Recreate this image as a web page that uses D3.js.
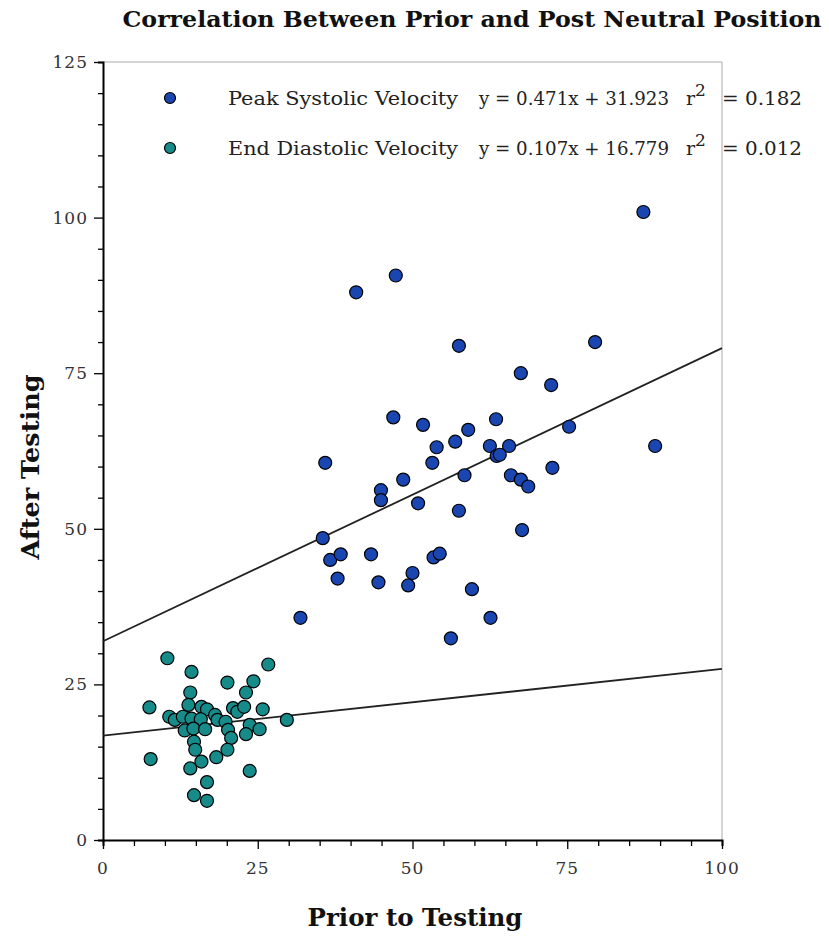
<!DOCTYPE html>
<html>
<head>
<meta charset="utf-8">
<script src="https://cdn.jsdelivr.net/npm/d3@7"></script>
<style>
  body { margin: 0; background: #fff; }
  svg text { font-family: "DejaVu Serif", "Liberation Serif", serif; }
</style>
</head>
<body>
<div id="chart"></div>
<script>
// Peak systolic velocity points [prior, after]
const systolic = [
    [87.3, 100.9], [47.3, 90.7], [40.9, 88.0], [57.5, 79.4], [79.5, 80.0],
    [67.5, 75.0], [72.4, 73.1], [75.3, 66.4], [35.9, 60.6], [46.9, 67.9],
    [51.7, 66.7], [63.5, 67.6], [59.0, 65.9], [53.9, 63.1], [56.9, 64.0],
    [53.2, 60.6], [62.5, 63.3], [65.6, 63.3], [63.6, 61.7], [64.1, 61.9],
    [48.5, 57.9], [58.4, 58.6], [65.9, 58.6], [67.5, 57.9], [68.7, 56.8],
    [72.6, 59.8], [50.9, 54.1], [57.5, 52.9], [44.9, 56.2], [44.9, 54.6],
    [67.7, 49.8], [35.5, 48.5], [36.7, 45.0], [38.4, 45.9], [43.3, 45.9],
    [53.4, 45.4], [54.4, 46.0], [37.9, 42.0], [44.5, 41.4], [50.0, 42.9],
    [49.3, 40.9], [59.6, 40.3], [31.9, 35.7], [62.6, 35.7], [56.2, 32.4],
    [89.2, 63.3]
];

// End diastolic velocity points [prior, after]
const diastolic = [
    [10.4, 29.2], [14.3, 27.0], [26.7, 28.2], [20.1, 25.3], [24.3, 25.5],
    [14.1, 23.7], [23.1, 23.7], [7.5, 21.3], [13.8, 21.7], [15.9, 21.4],
    [16.8, 21.0], [21.0, 21.2], [21.7, 20.6], [22.8, 21.4], [25.8, 21.0],
    [10.7, 19.8], [11.6, 19.3], [12.9, 19.8], [14.3, 19.5], [15.8, 19.4],
    [18.1, 20.1], [18.5, 19.3], [19.8, 19.0], [13.2, 17.6], [14.6, 17.9],
    [16.5, 17.8], [20.2, 17.7], [23.7, 18.5], [25.3, 17.8], [29.7, 19.3],
    [20.7, 16.4], [23.1, 17.0], [14.7, 15.8], [14.9, 14.5], [20.1, 14.5],
    [18.3, 13.3], [7.7, 13.0], [15.9, 12.6], [14.1, 11.5], [23.7, 11.1],
    [16.8, 9.3], [14.7, 7.2], [16.8, 6.3]
];

// regression fits as printed in the legend
const seriesNames = ["Peak Systolic Velocity", "End Diastolic Velocity"];
const slopes = [0.471, 0.107];
const intercepts = [31.923, 16.779];
const rSquared = ["0.182", "0.012"];
const colors = ["#1a46b2", "#178a8a"];

const xTicks = [0, 25, 50, 75, 100];
const yTicks = [0, 25, 50, 75, 100, 125];

const width = 829, height = 937;
const plotLeft = 103, plotRight = 722, plotTop = 62, plotBottom = 840;

const svg = d3.select("#chart").append("svg")
    .attr("width", width)
    .attr("height", height);

const x = d3.scaleLinear().domain([0, 100]).range([plotLeft, plotRight]);
const y = d3.scaleLinear().domain([0, 125]).range([plotBottom, plotTop]);

// thin frame on top and right
svg.append("path")
    .attr("d", `M${plotLeft},${plotTop}H${plotRight}V${plotBottom}`)
    .attr("fill", "none")
    .attr("stroke", "#aaa")
    .attr("stroke-width", 1);

// x axis: minor ticks every 5, labels every 25
const xAxis = svg.append("g")
    .attr("transform", `translate(0,${plotBottom})`)
    .call(d3.axisBottom(x).tickValues(d3.range(0, 101, 5)).tickSize(6).tickFormat(""));
xAxis.selectAll(".tick line").attr("stroke", "#000").attr("stroke-width", 1.3);
xAxis.select(".domain").attr("stroke", "#000").attr("stroke-width", 2);
xAxis.selectAll(".tick")
    .filter(d => xTicks.includes(d))
    .select("line").attr("y2", 9);

svg.append("g").selectAll("text")
    .data(xTicks)
    .enter().append("text")
    .attr("x", d => x(d))
    .attr("y", plotBottom + 34)
    .attr("text-anchor", "middle")
    .attr("font-size", "17px")
    .attr("letter-spacing", "1px")
    .attr("fill", "#333")
    .text(d => d);

// y axis
const yAxis = svg.append("g")
    .attr("transform", `translate(${plotLeft},0)`)
    .call(d3.axisLeft(y).tickValues(d3.range(0, 126, 5)).tickSize(5).tickFormat(""));
yAxis.selectAll(".tick line").attr("stroke", "#000").attr("stroke-width", 1.3);
yAxis.select(".domain").attr("stroke", "#000").attr("stroke-width", 2);
yAxis.selectAll(".tick")
    .filter(d => yTicks.includes(d))
    .select("line").attr("x2", -9);

svg.append("g").selectAll("text")
    .data(yTicks)
    .enter().append("text")
    .attr("x", plotLeft - 15)
    .attr("y", d => y(d) + 6)
    .attr("text-anchor", "end")
    .attr("font-size", "17px")
    .attr("letter-spacing", "1px")
    .attr("fill", "#333")
    .text(d => d);

// regression lines
svg.append("g").selectAll("line")
    .data(slopes)
    .enter().append("line")
    .attr("x1", x(0))
    .attr("y1", (d, i) => y(intercepts[i]))
    .attr("x2", x(100))
    .attr("y2", (d, i) => y(d * 100 + intercepts[i]))
    .attr("stroke", "#222")
    .attr("stroke-width", 1.8);

// points
[systolic, diastolic].forEach((pts, i) => {
    svg.append("g").selectAll("circle")
        .data(pts)
        .enter().append("circle")
        .attr("cx", d => x(d[0]))
        .attr("cy", d => y(d[1]))
        .attr("r", 6.5)
        .attr("fill", colors[i])
        .attr("stroke", "#000")
        .attr("stroke-width", 1.2);
});

// legend
const legend = svg.append("g")
    .attr("font-size", "19px")
    .attr("fill", "#222");
seriesNames.forEach((name, i) => {
    const ly = 98 + i * 50;
    legend.append("circle")
        .attr("cx", 170).attr("cy", ly).attr("r", 5.5)
        .attr("fill", colors[i]).attr("stroke", "#000").attr("stroke-width", 1.2);
    legend.append("text")
        .attr("x", 228).attr("y", ly + 7)
        .attr("textLength", 230).attr("lengthAdjust", "spacingAndGlyphs")
        .text(name);
    legend.append("text")
        .attr("x", 479).attr("y", ly + 7)
        .attr("textLength", 190).attr("lengthAdjust", "spacingAndGlyphs")
        .text(`y = ${slopes[i]}x + ${intercepts[i]}`);
    const r = legend.append("text")
        .attr("x", 686).attr("y", ly + 7);
    r.append("tspan").text("r");
    r.append("tspan").attr("dy", -9).attr("font-size", "17px").text("2");
    legend.append("text")
        .attr("x", 722).attr("y", ly + 7)
        .attr("textLength", 80).attr("lengthAdjust", "spacingAndGlyphs")
        .text(`= ${rSquared[i]}`);
});

// titles
svg.append("text")
    .attr("x", 472).attr("y", 27)
    .attr("text-anchor", "middle")
    .attr("font-size", "23px").attr("font-weight", "bold")
    .attr("textLength", 699).attr("lengthAdjust", "spacingAndGlyphs")
    .attr("fill", "#111")
    .text("Correlation Between Prior and Post Neutral Position");

svg.append("text")
    .attr("x", 415).attr("y", 926)
    .attr("text-anchor", "middle")
    .attr("font-size", "24px").attr("font-weight", "bold")
    .attr("textLength", 215).attr("lengthAdjust", "spacingAndGlyphs")
    .attr("fill", "#111")
    .text("Prior to Testing");

svg.append("text")
    .attr("transform", "translate(39,467) rotate(-90)")
    .attr("text-anchor", "middle")
    .attr("font-size", "24px").attr("font-weight", "bold")
    .attr("textLength", 185).attr("lengthAdjust", "spacingAndGlyphs")
    .attr("fill", "#111")
    .text("After Testing");
</script>
</body>
</html>
